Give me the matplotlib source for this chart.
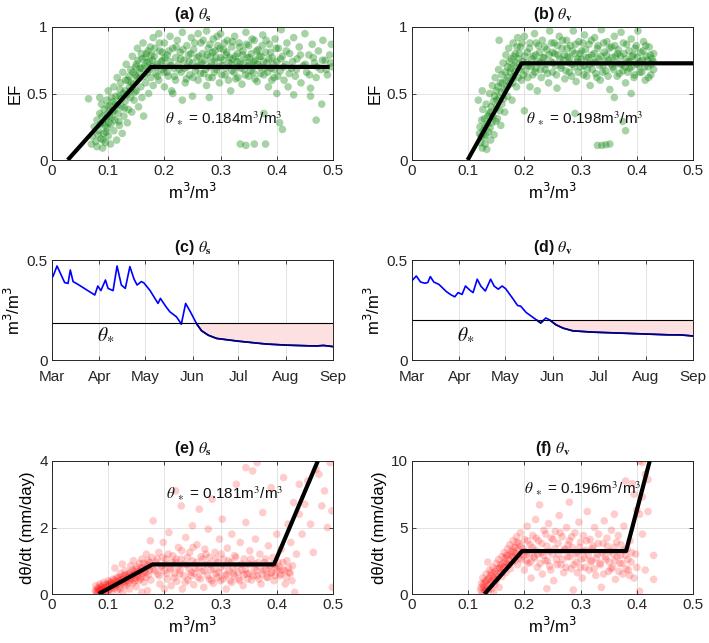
import numpy as np
import matplotlib
matplotlib.use("Agg")
import matplotlib.pyplot as plt

plt.rcParams['font.family'] = ['Liberation Sans', 'DejaVu Sans']
plt.rcParams['axes.edgecolor'] = '#262626'
plt.rcParams['xtick.color'] = '#262626'
plt.rcParams['ytick.color'] = '#262626'
plt.rcParams['text.color'] = '#111111'

# ---------------- data ----------------
# (a) EF vs theta_s
a_pts = [
 (0.065,0.46),(0.07,0.12),(0.072,0.18),(0.075,0.25),(0.078,0.14),(0.08,0.30),(0.08,0.10),(0.083,0.22),(0.085,0.35),(0.087,0.16),
 (0.088,0.42),(0.09,0.28),(0.09,0.09),(0.092,0.20),(0.093,0.38),(0.095,0.13),(0.096,0.31),(0.097,0.45),(0.098,0.24),(0.1,0.18),
 (0.1,0.40),(0.1,0.52),(0.085,0.47),(0.102,0.33),(0.104,0.12),(0.105,0.27),(0.106,0.47),(0.108,0.37),(0.11,0.22),(0.11,0.55),
 (0.112,0.30),(0.113,0.42),(0.115,0.15),(0.116,0.62),(0.118,0.35),(0.12,0.48),(0.12,0.26),(0.122,0.58),(0.124,0.40),(0.125,0.20),
 (0.126,0.66),(0.128,0.33),(0.13,0.52),(0.13,0.44),(0.132,0.72),(0.134,0.28),(0.135,0.60),(0.136,0.38),(0.138,0.55),(0.14,0.68),
 (0.14,0.47),(0.114,0.48),(0.142,0.36),(0.143,0.78),(0.145,0.57),(0.146,0.45),(0.148,0.64),(0.15,0.72),(0.15,0.52),(0.152,0.84),
 (0.154,0.40),(0.155,0.61),(0.157,0.69),(0.158,0.55),(0.16,0.76),(0.16,0.47),(0.162,0.88),(0.164,0.63),(0.165,0.71),(0.167,0.58),
 (0.168,0.80),(0.17,0.66),(0.172,0.50),(0.173,0.74),(0.175,0.85),(0.176,0.62),(0.178,0.70),(0.18,0.92),(0.18,0.56),(0.163,0.33),
 (0.182,0.78),(0.185,0.65),(0.187,0.72),(0.19,0.95),(0.19,0.60),(0.192,0.82),(0.195,0.68),(0.197,0.75),(0.2,0.88),(0.2,0.55),
 (0.202,0.70),(0.205,0.79),(0.207,0.63),(0.21,0.93),(0.21,0.74),(0.213,0.52),(0.215,0.84),(0.217,0.69),(0.22,0.77),(0.22,0.60),
 (0.223,0.90),(0.225,0.72),(0.228,0.81),(0.23,0.66),(0.232,0.96),(0.235,0.75),(0.237,0.58),(0.24,0.86),(0.24,0.70),(0.243,0.79),
 (0.245,0.64),(0.248,0.92),(0.25,0.73),(0.25,0.48),(0.232,0.45),(0.215,0.50),(0.252,0.83),(0.255,0.67),(0.258,0.77),(0.26,0.95),
 (0.26,0.60),(0.263,0.72),(0.265,0.88),(0.268,0.80),(0.27,0.65),(0.272,0.75),(0.275,0.97),(0.275,0.56),(0.278,0.84),(0.28,0.70),
 (0.282,0.78),(0.285,0.62),(0.287,0.91),(0.29,0.74),(0.29,0.82),(0.293,0.68),(0.295,0.86),(0.298,0.58),(0.3,0.77),(0.3,0.95),
 (0.303,0.71),(0.305,0.83),(0.308,0.64),(0.31,0.79),(0.312,0.90),(0.315,0.73),(0.318,0.52),(0.32,0.85),(0.32,0.67),(0.28,0.47),
 (0.322,0.76),(0.325,0.93),(0.327,0.61),(0.33,0.80),(0.33,0.70),(0.333,0.88),(0.335,0.74),(0.338,0.57),(0.34,0.82),(0.342,0.68),
 (0.345,0.96),(0.347,0.77),(0.35,0.63),(0.35,0.86),(0.353,0.72),(0.355,0.80),(0.358,0.66),(0.36,0.90),(0.362,0.75),(0.365,0.59),
 (0.367,0.83),(0.37,0.70),(0.372,0.78),(0.375,0.94),(0.377,0.64),(0.38,0.81),(0.382,0.73),(0.385,0.55),(0.387,0.87),(0.39,0.69),
 (0.392,0.77),(0.395,0.62),(0.397,0.91),(0.4,0.74),(0.4,0.50),(0.403,0.84),(0.406,0.67),(0.408,0.98),(0.41,0.78),(0.413,0.60),
 (0.416,0.72),(0.418,0.88),(0.42,0.55),(0.423,0.80),(0.426,0.69),(0.43,0.92),(0.433,0.63),(0.436,0.76),(0.44,0.85),(0.443,0.58),
 (0.447,0.71),(0.45,0.95),(0.453,0.66),(0.457,0.79),(0.46,0.54),(0.463,0.87),(0.467,0.73),(0.47,0.62),(0.474,0.82),(0.478,0.68),
 (0.482,0.90),(0.486,0.75),(0.49,0.64),(0.494,0.79),(0.497,0.87),(0.499,0.70),(0.335,0.12),(0.345,0.11),(0.36,0.12),(0.38,0.12),
 (0.41,0.23),(0.405,0.28),(0.377,0.35),(0.47,0.30),(0.48,0.42),(0.46,0.48),(0.43,0.49),
 (0.205,0.66),(0.208,0.82),(0.212,0.71),(0.218,0.63),(0.221,0.85),(0.226,0.68),(0.229,0.76),(0.233,0.83),(0.236,0.69),(0.239,0.61),
 (0.244,0.74),(0.247,0.80),(0.251,0.62),(0.254,0.88),(0.257,0.70),(0.261,0.78),(0.264,0.65),(0.267,0.73),(0.269,0.90),(0.273,0.68),
 (0.276,0.79),(0.279,0.62),(0.281,0.87),(0.284,0.73),(0.286,0.81),(0.289,0.66),(0.292,0.77),(0.294,0.93),(0.297,0.70),(0.299,0.84),
 (0.302,0.64),(0.304,0.75),(0.307,0.88),(0.309,0.69),(0.311,0.81),(0.314,0.60),(0.316,0.77),(0.319,0.72),(0.321,0.89),(0.324,0.66),
 (0.326,0.78),(0.329,0.74),(0.331,0.62),(0.334,0.85),(0.336,0.69),(0.339,0.79),(0.341,0.73),(0.344,0.64),(0.346,0.87),(0.349,0.71),
 (0.351,0.77),(0.354,0.67),(0.356,0.91),(0.359,0.74),(0.361,0.61),(0.364,0.82),(0.366,0.72),(0.369,0.78),(0.371,0.65),(0.374,0.86),
 (0.376,0.74),(0.379,0.69),(0.381,0.90),(0.384,0.66),(0.386,0.76),(0.389,0.81),(0.391,0.60),(0.394,0.72),(0.396,0.68),(0.399,0.84),
 (0.402,0.63),(0.407,0.76),(0.412,0.70),(0.417,0.82),(0.422,0.65),(0.428,0.74),(0.435,0.68),(0.442,0.79),(0.451,0.72),(0.458,0.64),
 (0.465,0.77),(0.472,0.70),(0.481,0.75),(0.488,0.68),(0.496,0.73),
 (0.082,0.19),(0.086,0.27),(0.089,0.33),(0.091,0.15),(0.094,0.26),(0.096,0.21),(0.099,0.35),(0.101,0.28),(0.103,0.41),(0.107,0.32),
 (0.109,0.44),(0.111,0.37),(0.117,0.41),(0.119,0.29),(0.121,0.53),(0.123,0.46),(0.127,0.50),(0.129,0.39),(0.131,0.60),(0.133,0.49),
 (0.137,0.63),(0.139,0.52),(0.141,0.58),(0.144,0.66),(0.147,0.51),(0.149,0.70),(0.151,0.62),(0.153,0.75),(0.156,0.66),(0.159,0.80),
 (0.161,0.69),(0.166,0.77),(0.169,0.73),(0.171,0.82),(0.174,0.68),(0.177,0.79),(0.179,0.75),(0.183,0.84),(0.186,0.70),(0.188,0.63),
 (0.191,0.88),(0.194,0.74),(0.196,0.81),(0.199,0.66),(0.201,0.77),
]
a_fit_x = [0.028, 0.176, 0.494]
a_fit_y = [0.0, 0.70, 0.70]
a_theta = "0.184"

# (b) EF vs theta_v
b_pts = [
 (0.118,0.45),(0.12,0.20),(0.122,0.13),(0.124,0.30),(0.125,0.09),(0.126,0.38),(0.128,0.17),(0.13,0.25),(0.13,0.12),(0.132,0.42),
 (0.133,0.08),(0.135,0.33),(0.136,0.21),(0.138,0.50),(0.14,0.15),(0.14,0.36),(0.142,0.28),(0.143,0.56),(0.145,0.44),(0.146,0.19),
 (0.148,0.62),(0.15,0.39),(0.15,0.52),(0.152,0.31),(0.154,0.68),(0.155,0.90),(0.155,0.47),(0.157,0.58),(0.158,0.26),(0.16,0.64),
 (0.16,0.42),(0.162,0.73),(0.164,0.53),(0.165,0.36),(0.167,0.79),(0.168,0.60),(0.17,0.70),(0.17,0.48),(0.172,0.84),(0.174,0.57),
 (0.175,0.66),(0.177,0.76),(0.178,0.45),(0.18,0.88),(0.18,0.62),(0.182,0.71),(0.184,0.80),(0.186,0.55),(0.188,0.92),(0.19,0.68),
 (0.19,0.76),(0.125,0.52),(0.193,0.85),(0.195,0.60),(0.197,0.74),(0.2,0.93),(0.2,0.37),(0.202,0.67),(0.205,0.81),(0.207,0.71),
 (0.21,0.55),(0.21,0.88),(0.213,0.76),(0.215,0.64),(0.218,0.95),(0.22,0.79),(0.22,0.69),(0.223,0.52),(0.225,0.86),(0.228,0.73),
 (0.23,0.62),(0.232,0.90),(0.235,0.77),(0.237,0.68),(0.24,0.83),(0.243,0.58),(0.245,0.97),(0.247,0.74),(0.25,0.81),(0.25,0.66),
 (0.253,0.88),(0.255,0.71),(0.258,0.54),(0.26,0.79),(0.262,0.93),(0.265,0.69),(0.267,0.84),(0.27,0.75),(0.272,0.61),(0.275,0.90),
 (0.277,0.78),(0.28,0.66),(0.282,0.86),(0.285,0.72),(0.287,0.97),(0.29,0.80),(0.29,0.35),(0.292,0.59),(0.295,0.76),(0.297,0.89),
 (0.3,0.70),(0.302,0.82),(0.305,0.64),(0.307,0.94),(0.31,0.77),(0.312,0.68),(0.315,0.87),(0.317,0.56),(0.32,0.79),(0.322,0.73),
 (0.325,0.92),(0.327,0.65),(0.33,0.84),(0.332,0.76),(0.335,0.60),(0.337,0.98),(0.34,0.71),(0.342,0.81),(0.345,0.67),(0.347,0.89),
 (0.35,0.75),(0.352,0.53),(0.355,0.85),(0.357,0.70),(0.36,0.93),(0.362,0.78),(0.365,0.63),(0.367,0.83),(0.37,0.72),(0.372,0.96),
 (0.375,0.67),(0.377,0.80),(0.38,0.58),(0.382,0.87),(0.385,0.74),(0.387,0.69),(0.39,0.91),(0.392,0.78),(0.395,0.62),(0.397,0.84),
 (0.4,0.72),(0.402,0.97),(0.405,0.66),(0.407,0.81),(0.41,0.75),(0.412,0.89),(0.415,0.60),(0.417,0.78),(0.42,0.70),(0.422,0.85),
 (0.425,0.64),(0.427,0.76),(0.43,0.80),(0.43,0.68),(0.33,0.11),(0.338,0.11),(0.345,0.115),(0.352,0.12),(0.38,0.22),(0.375,0.29),
 (0.36,0.47),(0.39,0.50),
 (0.121,0.25),(0.123,0.18),(0.127,0.22),(0.129,0.31),(0.131,0.19),(0.134,0.27),(0.137,0.35),(0.139,0.24),(0.141,0.40),(0.144,0.33),
 (0.147,0.48),(0.149,0.29),(0.151,0.45),(0.153,0.55),(0.156,0.37),(0.159,0.51),(0.161,0.58),(0.163,0.46),(0.166,0.66),(0.169,0.55),
 (0.171,0.62),(0.173,0.74),(0.176,0.69),(0.179,0.58),(0.181,0.78),(0.183,0.66),(0.185,0.73),(0.187,0.85),(0.189,0.62),(0.191,0.80),
 (0.194,0.70),(0.196,0.88),(0.198,0.64),(0.201,0.78),(0.204,0.73),
 (0.206,0.62),(0.209,0.84),(0.212,0.70),(0.216,0.78),(0.219,0.66),(0.221,0.88),(0.224,0.74),(0.227,0.81),(0.229,0.68),(0.233,0.77),
 (0.236,0.85),(0.239,0.72),(0.241,0.65),(0.244,0.79),(0.248,0.88),(0.251,0.73),(0.254,0.80),(0.257,0.64),(0.259,0.86),(0.263,0.76),
 (0.266,0.71),(0.268,0.90),(0.271,0.79),(0.274,0.67),(0.276,0.84),(0.279,0.73),(0.281,0.77),(0.284,0.63),(0.286,0.82),(0.289,0.70),
 (0.291,0.87),(0.294,0.74),(0.296,0.66),(0.299,0.80),(0.301,0.76),(0.304,0.88),(0.306,0.71),(0.309,0.83),(0.311,0.63),(0.314,0.77),
 (0.316,0.72),(0.319,0.90),(0.321,0.68),(0.324,0.80),(0.326,0.74),(0.329,0.62),(0.331,0.86),(0.334,0.71),(0.336,0.78),(0.339,0.66),
 (0.341,0.88),(0.344,0.74),(0.346,0.79),(0.349,0.63),(0.351,0.84),(0.354,0.72),(0.356,0.77),(0.359,0.68),(0.361,0.86),(0.364,0.73),
 (0.366,0.80),(0.369,0.65),(0.371,0.78),(0.374,0.72),(0.376,0.88),(0.379,0.70),(0.381,0.76),(0.384,0.66),(0.386,0.82),(0.389,0.74),
 (0.391,0.70),(0.394,0.79),(0.396,0.64),(0.399,0.86),(0.401,0.77),(0.404,0.71),(0.406,0.74),(0.409,0.66),(0.411,0.82),(0.414,0.70),
 (0.416,0.86),(0.419,0.75),(0.421,0.62),(0.424,0.79),(0.426,0.72),(0.429,0.74),
]
b_fit_x = [0.099, 0.195, 0.5]
b_fit_y = [0.0, 0.727, 0.727]
b_theta = "0.198"

# (c), (d) soil moisture time series (days since 1 March)
c_days = [0.6,3.3,8.3,10.5,12,13.8,16,28,30,32,35,36.7,40,42.6,45.4,48,51,53.5,55.7,58.5,60,64,69.4,71,73.8,77,81.4,84.7,
          87.5,90,94.5,97.8,102,107.6,118.5,129.5,140,151,162,173,177.5,184]
c_vals = [0.417,0.47,0.387,0.383,0.45,0.392,0.383,0.325,0.37,0.347,0.40,0.358,0.347,0.47,0.375,0.358,0.467,0.408,0.375,0.392,
          0.387,0.35,0.283,0.308,0.275,0.242,0.217,0.18,0.283,0.25,0.183,0.147,0.125,0.108,0.097,0.088,0.08,0.075,0.072,0.07,
          0.073,0.067]
c_star = 0.184

d_days = [0.4,2.8,5.5,8.3,10.3,12,14.2,17.5,22,25,28,30.2,32.8,35,37.7,40,42.7,45,48,51.5,53.7,56.5,59,61.3,65.7,69,71.2,
          74.5,78.9,84.3,87.6,89.8,94,98.6,105,116,133.6,151,166.5,175,184]
d_vals = [0.40,0.42,0.39,0.384,0.387,0.417,0.39,0.379,0.345,0.328,0.316,0.337,0.328,0.37,0.35,0.337,0.404,0.37,0.345,0.404,
          0.37,0.354,0.37,0.357,0.311,0.273,0.269,0.239,0.215,0.185,0.21,0.202,0.177,0.16,0.146,0.14,0.135,0.13,0.126,0.126,0.12]
d_star = 0.198

month_days = [0, 31, 61, 92, 122, 153, 184]
month_labels = ["Mar", "Apr", "May", "Jun", "Jul", "Aug", "Sep"]

# (e) drydown rate vs theta_s
e_pts = [
 (0.077,0.10),(0.078,0.25),(0.08,0.05),(0.082,0.15),(0.083,0.02),(0.085,0.30),(0.087,0.12),(0.088,0.20),(0.09,0.06),(0.092,0.35),
 (0.093,0.18),(0.095,0.10),(0.097,0.28),(0.098,0.04),(0.1,0.22),(0.1,0.40),(0.102,0.14),(0.104,0.33),(0.106,0.08),(0.108,0.45),
 (0.11,0.26),(0.11,0.17),(0.112,0.78),(0.114,0.38),(0.116,0.12),(0.118,0.50),(0.12,0.30),(0.12,0.21),(0.122,0.62),(0.124,0.43),
 (0.126,0.05),(0.128,0.55),(0.13,0.35),(0.13,0.70),(0.132,0.25),(0.134,0.48),(0.136,0.60),(0.138,0.15),(0.14,0.42),(0.14,0.85),
 (0.142,0.55),(0.144,0.32),(0.146,0.68),(0.148,0.48),(0.15,0.75),(0.15,0.22),(0.152,0.60),(0.154,0.40),(0.156,0.92),(0.158,0.70),
 (0.16,0.52),(0.16,1.05),(0.162,0.80),(0.164,0.35),(0.166,0.65),(0.168,1.20),(0.17,0.88),(0.172,0.58),(0.174,0.95),(0.176,0.42),
 (0.178,1.10),(0.18,0.75),(0.18,2.2),(0.175,1.6),(0.145,1.0),(0.125,0.9),(0.17,0.1),(0.16,0.05),
 (0.185,0.95),(0.188,0.60),(0.19,1.25),(0.192,0.30),(0.195,0.85),(0.198,1.55),(0.2,0.70),(0.2,0.15),(0.203,1.05),(0.205,0.45),
 (0.208,1.85),(0.21,0.80),(0.212,0.25),(0.215,1.15),(0.218,0.62),(0.22,3.1),(0.22,0.95),(0.222,0.38),(0.225,1.40),(0.228,0.72),
 (0.23,2.65),(0.23,1.05),(0.232,0.15),(0.235,0.55),(0.238,1.70),(0.24,0.88),(0.242,0.42),(0.245,1.25),(0.248,0.65),(0.25,2.05),
 (0.25,1.00),(0.252,0.28),(0.255,0.78),(0.258,1.48),(0.26,0.50),(0.262,2.55),(0.265,1.12),(0.267,0.68),(0.27,0.20),(0.272,1.35),
 (0.275,0.88),(0.278,1.95),(0.28,0.45),(0.28,1.10),(0.283,0.72),(0.285,2.85),(0.287,0.32),(0.29,1.25),(0.292,0.60),(0.295,0.95),
 (0.298,1.65),(0.3,0.40),(0.3,0.80),(0.303,2.25),(0.305,1.05),(0.308,0.55),(0.31,0.15),(0.312,1.38),(0.315,0.70),(0.318,0.95),
 (0.32,1.80),(0.32,0.35),(0.323,0.62),(0.325,1.15),(0.328,3.3),(0.33,0.85),(0.332,0.45),(0.335,1.55),(0.338,0.72),(0.34,0.25),
 (0.342,1.05),(0.345,2.15),(0.347,0.60),(0.35,0.90),(0.352,1.30),(0.355,0.42),(0.357,3.7),(0.36,0.78),(0.362,1.65),(0.365,0.55),
 (0.367,0.95),(0.37,1.20),(0.372,0.30),(0.375,2.45),(0.377,0.70),(0.38,1.05),(0.382,0.50),(0.385,1.45),(0.387,0.85),(0.39,3.2),
 (0.39,0.62),(0.393,1.10),(0.395,0.40),(0.398,0.78),(0.4,1.80),(0.402,0.95),(0.405,0.55),(0.408,1.35),(0.41,0.72),(0.412,3.5),
 (0.415,0.30),(0.418,1.00),(0.42,2.1),(0.422,0.65),(0.425,1.55),(0.428,0.85),(0.43,2.75),(0.432,0.05),(0.365,3.95),(0.345,3.8),
 (0.435,1.2),(0.44,2.4),(0.445,1.8),(0.45,2.7),(0.455,3.4),(0.46,2.1),(0.465,1.25),(0.47,3.75),(0.475,3.6),(0.48,2.65),
 (0.485,3.1),(0.49,2.0),(0.495,3.95),(0.498,2.5),(0.499,0.2),(0.44,3.3),
 (0.079,0.08),(0.081,0.18),(0.084,0.10),(0.086,0.22),(0.089,0.14),(0.091,0.27),(0.094,0.08),(0.096,0.19),(0.099,0.30),(0.101,0.12),
 (0.103,0.26),(0.105,0.36),(0.107,0.20),(0.109,0.31),(0.111,0.42),(0.113,0.25),(0.115,0.48),(0.117,0.33),(0.119,0.40),(0.121,0.15),
 (0.123,0.52),(0.125,0.37),(0.127,0.45),(0.129,0.28),(0.131,0.58),(0.133,0.40),(0.135,0.52),(0.137,0.35),(0.139,0.64),(0.141,0.47),
 (0.143,0.72),(0.145,0.58),(0.147,0.40),(0.149,0.62),(0.151,0.82),(0.153,0.52),(0.155,0.68),(0.157,0.45),(0.159,0.78),(0.161,0.62),
 (0.163,0.92),(0.165,0.72),(0.167,0.50),(0.169,0.80),(0.171,1.00),(0.173,0.70),(0.177,0.85),
 (0.183,0.70),(0.187,1.05),(0.191,0.55),(0.194,0.80),(0.197,1.10),(0.201,0.90),(0.204,0.62),(0.207,1.20),(0.211,0.75),(0.214,0.95),
 (0.217,0.48),(0.221,1.05),(0.224,0.80),(0.227,0.60),(0.231,1.30),(0.234,0.90),(0.237,0.35),(0.241,1.10),(0.244,0.75),(0.247,0.55),
 (0.251,1.40),(0.254,0.62),(0.257,0.95),(0.261,0.80),(0.264,0.45),(0.268,1.05),(0.271,0.70),(0.274,1.20),(0.277,0.55),(0.281,0.90),
 (0.284,0.40),(0.288,0.75),(0.291,1.05),(0.294,0.50),(0.297,0.65),(0.301,1.20),(0.304,0.45),(0.307,0.85),(0.311,0.60),(0.314,1.00),
 (0.317,0.40),(0.321,0.78),(0.324,0.55),(0.327,1.10),(0.331,0.65),(0.334,0.40),(0.337,0.90),(0.341,0.58),(0.344,0.75),(0.348,0.45),
 (0.351,0.62),(0.354,1.05),(0.358,0.55),(0.361,0.90),(0.364,0.70),(0.368,0.45),(0.371,0.82),(0.374,0.60),(0.378,0.95),(0.381,0.72),
 (0.384,0.50),(0.388,0.85),(0.391,0.65),(0.394,0.90),(0.397,0.55),(0.401,0.75),(0.404,0.82),(0.407,0.60),(0.411,0.95),(0.414,0.70),
 (0.417,0.50),(0.421,0.80),(0.424,0.62),(0.427,0.40),
]
e_fit_x = [0.083, 0.179, 0.395, 0.473]
e_fit_y = [0.0, 0.89, 0.89, 4.0]
e_theta = "0.181"

# (f) drydown rate vs theta_v
f_pts = [
 (0.122,0.3),(0.124,0.8),(0.125,0.1),(0.126,1.2),(0.128,0.5),(0.13,0.9),(0.13,0.2),(0.132,1.5),(0.134,0.6),(0.135,1.1),
 (0.136,0.3),(0.138,1.8),(0.14,0.9),(0.14,1.4),(0.142,0.4),(0.144,2.0),(0.145,1.2),(0.147,0.7),(0.148,1.7),(0.15,2.3),
 (0.15,1.0),(0.152,1.5),(0.154,2.6),(0.155,0.5),(0.156,1.9),(0.158,2.2),(0.16,1.3),(0.16,2.8),(0.162,1.8),(0.164,3.1),
 (0.165,2.4),(0.167,1.6),(0.168,2.9),(0.17,3.4),(0.17,2.1),(0.172,2.6),(0.174,3.7),(0.175,1.9),(0.177,3.0),(0.178,2.4),
 (0.18,4.0),(0.18,3.2),(0.182,2.7),(0.184,3.5),(0.186,4.3),(0.188,2.2),(0.19,3.8),(0.19,3.0),(0.135,2.4),(0.145,0.1),
 (0.193,4.6),(0.195,2.6),(0.197,3.4),(0.2,1.8),(0.2,4.1),(0.203,3.0),(0.205,5.1),(0.207,2.3),(0.21,3.7),(0.212,1.2),
 (0.215,4.4),(0.217,2.8),(0.22,3.3),(0.22,5.6),(0.223,2.0),(0.225,4.0),(0.227,6.7),(0.23,3.1),(0.232,1.5),(0.235,4.8),
 (0.237,2.5),(0.24,3.6),(0.24,0.4),(0.243,5.3),(0.245,2.1),(0.248,4.2),(0.25,3.0),(0.252,1.0),(0.255,4.7),(0.257,2.6),
 (0.26,3.8),(0.262,5.9),(0.265,2.2),(0.267,4.3),(0.27,1.6),(0.272,3.4),(0.275,5.0),(0.277,2.8),(0.28,4.0),(0.28,6.9),
 (0.283,1.9),(0.285,3.5),(0.287,0.3),(0.29,4.6),(0.292,2.4),(0.295,3.1),(0.297,5.4),(0.3,2.0),(0.3,3.9),(0.303,1.2),
 (0.305,4.4),(0.307,2.7),(0.31,3.3),(0.312,6.2),(0.315,1.8),(0.317,4.1),(0.32,2.5),(0.322,3.6),(0.325,5.0),(0.327,1.4),
 (0.33,3.0),(0.332,4.5),(0.335,2.2),(0.337,0.5),(0.34,3.8),(0.342,5.5),(0.345,2.6),(0.347,4.2),(0.35,1.7),(0.352,3.2),
 (0.355,4.8),(0.357,2.0),(0.36,6.0),(0.36,3.5),(0.362,1.1),(0.365,2.8),(0.367,4.4),(0.37,2.3),(0.372,3.7),(0.375,1.5),
 (0.377,5.1),(0.38,2.9),(0.38,8.5),(0.383,3.4),(0.385,1.8),(0.388,4.0),(0.39,2.4),(0.392,8.3),(0.395,1.2),(0.398,3.0),
 (0.4,2.0),(0.405,10.0),(0.41,9.9),(0.415,9.0),(0.42,8.6),(0.41,7.3),(0.42,6.2),(0.405,6.0),(0.415,1.8),(0.43,2.9),
 (0.43,1.1),(0.405,0.2),(0.4,6.3),(0.395,7.5),(0.41,4.5),
 (0.123,0.5),(0.127,0.7),(0.129,0.3),(0.131,1.0),(0.133,0.4),(0.137,1.2),(0.139,0.7),(0.141,1.6),(0.143,1.0),(0.146,1.5),
 (0.149,1.1),(0.151,1.9),(0.153,1.3),(0.157,2.0),(0.159,1.6),(0.161,2.3),(0.163,2.0),(0.166,2.7),(0.169,2.3),(0.171,2.9),
 (0.173,2.2),(0.176,3.2),(0.179,2.8),(0.181,3.5),(0.183,2.5),(0.185,3.0),(0.187,3.9),(0.189,3.3),(0.191,2.7),
 (0.194,3.6),(0.198,2.9),(0.201,3.2),(0.204,2.5),(0.206,4.0),(0.209,3.0),(0.211,2.4),(0.214,3.5),(0.218,2.7),(0.221,4.2),
 (0.224,3.0),(0.228,2.3),(0.231,3.8),(0.234,2.9),(0.238,4.5),(0.241,2.5),(0.244,3.2),(0.247,1.8),(0.251,4.1),(0.254,3.4),
 (0.258,2.2),(0.261,3.0),(0.264,4.6),(0.268,2.6),(0.271,3.3),(0.274,2.0),(0.278,3.7),(0.281,2.8),(0.284,4.3),(0.288,2.2),
 (0.291,3.0),(0.294,1.6),(0.298,3.5),(0.301,2.6),(0.304,3.2),(0.308,2.0),(0.311,4.0),(0.314,2.9),(0.318,2.4),(0.321,3.4),
 (0.324,1.9),(0.328,2.7),(0.331,3.8),(0.334,2.3),(0.338,3.1),(0.341,1.5),(0.344,2.8),(0.348,3.6),(0.351,2.4),(0.354,1.9),
 (0.358,3.0),(0.361,2.5),(0.364,3.9),(0.368,1.7),(0.371,2.9),(0.374,2.3),(0.378,3.3),(0.381,1.9),(0.384,2.6),(0.387,1.4),
 (0.391,3.1),
]
f_fit_x = [0.129, 0.196, 0.381, 0.423]
f_fit_y = [0.0, 3.23, 3.23, 10.0]
f_theta = "0.196"

# ---------------- figure ----------------
W, H = 709, 643
fig = plt.figure(figsize=(W / 100, H / 100), dpi=100)

def ax_px(left, top, right, bottom):
    return fig.add_axes([left / W, 1 - bottom / H, (right - left) / W, (bottom - top) / H])

TICK_FS = 11
LAB_FS = 12
TITLE_FS = 11.5
GREEN = (0.0, 0.5, 0.0)

def style(ax, xlim, ylim, xticks, yticks, xlabels=None, ylabels=None):
    ax.set_xlim(*xlim)
    ax.set_ylim(*ylim)
    ax.set_xticks(xticks)
    ax.set_yticks(yticks)
    if xlabels is not None:
        ax.set_xticklabels(xlabels)
    if ylabels is not None:
        ax.set_yticklabels(ylabels)
    ax.tick_params(direction='in', length=3, width=0.6, labelsize=TICK_FS, top=True, right=True, pad=3)
    ax.grid(True, color='#dedede', linewidth=0.6)
    ax.set_axisbelow(True)
    for s in ax.spines.values():
        s.set_linewidth(0.7)

def title(ax, letter, sub):
    ax.set_title("(%s) $\\theta_{\\mathbf{%s}}$" % (letter, sub), fontsize=TITLE_FS, fontweight='bold',
                 math_fontfamily='stix', pad=6)

def scatter_panel(ax, pts, fit_x, fit_y, color, alpha, ylim, yticks, ylabels, ylabel, theta, tx, ty):
    x = [p[0] for p in pts]
    y = [p[1] for p in pts]
    ax.scatter(x, y, s=30, color=color, alpha=alpha, edgecolors='none', zorder=2)
    ax.plot(fit_x, fit_y, color='black', linewidth=3, zorder=3, solid_capstyle='butt')
    style(ax, (0, 0.5), ylim, [0, 0.1, 0.2, 0.3, 0.4, 0.5], yticks,
          ["0", "0.1", "0.2", "0.3", "0.4", "0.5"], ylabels)
    ax.set_xlabel("m$^3$/m$^3$", fontsize=LAB_FS, labelpad=3)
    ax.set_ylabel(ylabel, fontsize=LAB_FS, labelpad=3)
    ax.text(tx, ty, "$\\theta_{\\ \\ast}$ = %sm$^3$/m$^3$" % theta, fontsize=11, math_fontfamily='stix',
            va='center', ha='left', zorder=4)

def ts_panel(ax, days, vals, star):
    d = np.asarray(days, float)
    v = np.asarray(vals, float)
    dd = np.linspace(0, 184, 1841)
    vv = np.interp(dd, d, v)
    ax.fill_between(dd, vv, star, where=vv < star, interpolate=True, color='#fde0e0', linewidth=0, zorder=1)
    ax.axhline(star, color='black', linewidth=0.8, zorder=2)
    ax.plot(dd, vv, color='blue', linewidth=1.2, zorder=3)
    below = np.where(vv <= star, vv, np.nan)
    ax.plot(dd, below, color='#00006e', linewidth=1.2, zorder=4)
    style(ax, (0, 184), (0, 0.5), month_days, [0, 0.5], month_labels, ["0", "0.5"])
    ax.tick_params(axis='x', pad=7)
    ax.set_ylabel("m$^3$/m$^3$", fontsize=LAB_FS, labelpad=3)
    ax.text(35.5, 0.125, "$\\theta_{\\ast}$", fontsize=14, math_fontfamily='stix', va='center', ha='center')

ax_a = ax_px(52, 27, 333, 160)
scatter_panel(ax_a, a_pts, a_fit_x, a_fit_y, GREEN, 0.35, (0, 1), [0, 0.5, 1], ["0", "0.5", "1"], "EF", a_theta, 0.201, 0.31)
title(ax_a, "a", "s")

ax_b = ax_px(412, 27, 693, 160)
scatter_panel(ax_b, b_pts, b_fit_x, b_fit_y, GREEN, 0.35, (0, 1), [0, 0.5, 1], ["0", "0.5", "1"], "EF", b_theta, 0.203, 0.31)
title(ax_b, "b", "v")

ax_c = ax_px(52, 260, 333, 360)
ts_panel(ax_c, c_days, c_vals, c_star)
title(ax_c, "c", "s")

ax_d = ax_px(412, 260, 693, 360)
ts_panel(ax_d, d_days, d_vals, d_star)
title(ax_d, "d", "v")

ax_e = ax_px(52, 461, 333, 594)
scatter_panel(ax_e, e_pts, e_fit_x, e_fit_y, 'red', 0.2, (0, 4), [0, 2, 4], ["0", "2", "4"],
              "d\u03b8/dt (mm/day)", e_theta, 0.202, 3.0)
title(ax_e, "e", "s")

ax_f = ax_px(412, 461, 693, 594)
scatter_panel(ax_f, f_pts, f_fit_x, f_fit_y, 'red', 0.2, (0, 10), [0, 5, 10], ["0", "5", "10"],
              "d\u03b8/dt (mm/day)", f_theta, 0.2, 7.9)
title(ax_f, "f", "v")

fig.savefig("out.png", dpi=100)
